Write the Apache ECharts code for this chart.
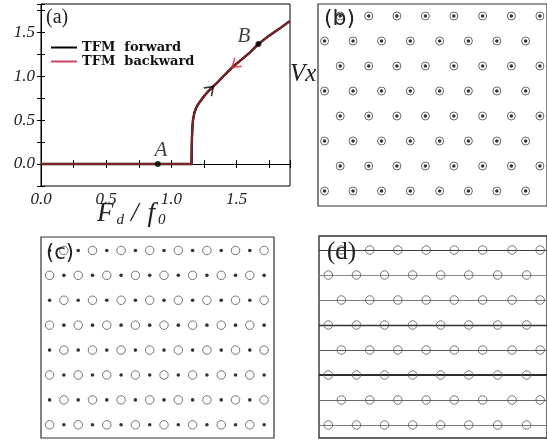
<!DOCTYPE html>
<html><head><meta charset="utf-8">
<script src="https://cdn.jsdelivr.net/npm/echarts@6/dist/echarts.min.js"></script>
<style>html,body{margin:0;padding:0;background:#fff}#c{width:547px;height:441px}</style>
</head><body><div id="c"></div>
<script>
// ---------- Panel (a): Vx versus Fd/f0 ----------
const curveF       = [0, 0.3, 0.6, 0.9, 1.155, 1.156, 1.158, 1.161, 1.166, 1.176, 1.188, 1.200, 1.215, 1.232, 1.255, 1.283, 1.315, 1.348, 1.41, 1.475, 1.54, 1.604, 1.668, 1.75, 1.83, 1.908];
const forwardV     = [0, 0, 0, 0, 0, 0.15, 0.30, 0.41, 0.50, 0.58, 0.63, 0.666, 0.70, 0.734, 0.78, 0.827, 0.875, 0.92, 1.015, 1.11, 1.19, 1.27, 1.366, 1.46, 1.54, 1.625];
const backwardV    = [0, 0, 0, 0, 0, 0.15, 0.30, 0.41, 0.50, 0.58, 0.63, 0.666, 0.70, 0.734, 0.78, 0.827, 0.875, 0.92, 1.015, 1.11, 1.19, 1.27, 1.366, 1.46, 1.54, 1.625];
const pointNames   = ['A', 'B'];
const pointF       = [0.896, 1.668];
const pointV       = [0, 1.366];
const arrowF       = [1.30, 1.49];
const arrowV       = [0.85, 1.13];
const arrowDeg     = [44, 220];
const xTickValues  = [0, 0.5, 1.0, 1.5];
const xTickLabels  = ['0.0', '0.5', '1.0', '1.5'];
const yTickValues  = [0, 0.5, 1.0, 1.5];
const yTickLabels  = ['0.0', '0.5', '1.0', '1.5'];
const seriesNames  = ['TFM forward', 'TFM backward'];

// ---------- Panel (b): locked lattice (circle + dot) ----------
const bRowsA_Y = [7.6, 5.6, 3.6, 1.6];
const bRowsA_X = [0.78, 1.78, 2.77, 3.77, 4.77, 5.78, 6.79, 7.79];
const bRowsB_Y = [6.6, 4.6, 2.6, 0.6];
const bRowsB_X = [0.23, 1.23, 2.23, 3.24, 4.27, 5.28, 6.28, 7.29];

// ---------- Panel (c): decoupled circles and dots ----------
const cRowsA_Y = [7.53, 5.53, 3.53, 1.53];   // dots on even columns
const cRowsB_Y = [6.53, 4.53, 2.53, 0.53];   // circles on even columns
const cEvenX   = [0.6, 2.6, 4.6, 6.6, 8.6, 10.6, 12.6, 14.6];
const cOddX    = [1.6, 3.6, 5.6, 7.6, 9.6, 11.6, 13.6, 15.6];

// ---------- Panel (d): circles with sliding channels ----------
const dRowsA_Y = [7.52, 5.52, 3.52, 1.52];
const dRowsA_X = [0.79, 1.79, 2.78, 3.78, 4.77, 5.77, 6.81, 7.80];
const dRowsB_Y = [6.52, 4.52, 2.52, 0.52];
const dRowsB_X = [0.33, 1.32, 2.31, 3.3, 4.29, 5.28, 6.3, 7.32];
const dLineRowsY = [7.52, 6.52, 5.52, 4.52, 3.52, 2.52, 1.52, 0.52];

// styles (kept separate from data)
const dLineColors = ['#3a3a3a', '#8a8a8a', '#7a7a7a', '#333333', '#5a5a5a', '#2e2e2e', '#6a6a6a', '#7a7a7a'];
const dLineWidths = [1.2, 1.2, 1.2, 1.4, 1.2, 1.8, 1.2, 1.2];

function zip(xs, ys) { return xs.map((x, i) => [x, ys[i]]); }
function grid2(ysArr, xs) { const out = []; ysArr.forEach(y => xs.forEach(x => out.push([x, y]))); return out; }
function lab(values, labels) {
  return v => { const i = values.findIndex(t => Math.abs(t - v) < 1e-6); return i >= 0 ? labels[i] : ''; };
}

const serifIt = { fontFamily: 'Liberation Serif', fontStyle: 'italic', color: '#222' };
const pointLabelStyle = [
  { position: 'top', offset: [3, 5] },
  { position: 'left', offset: [0, -7] }
];

const bLattice = grid2(bRowsA_Y, bRowsA_X).concat(grid2(bRowsB_Y, bRowsB_X));
const cDots = grid2(cRowsA_Y, cEvenX).concat(grid2(cRowsB_Y, cOddX));
const cCircles = grid2(cRowsA_Y, cOddX).concat(grid2(cRowsB_Y, cEvenX));
const dCircles = grid2(dRowsA_Y, dRowsA_X).concat(grid2(dRowsB_Y, dRowsB_X));

const XB = 8.04, YB = 8.08, XC = 16.29, YC = 8.07, XD = 8.04, YD = 8.08;

const option = {
  animation: false,
  backgroundColor: '#fff',
  grid: [
    { left: 41, top: 4, width: 249, height: 182, show: true, borderColor: '#000', borderWidth: 1 },
    { left: 318, top: 4, width: 230, height: 202, show: true, borderColor: '#333', borderWidth: 1.2 },
    { left: 41, top: 237, width: 233, height: 201, show: true, borderColor: '#333', borderWidth: 1.2 },
    { left: 319, top: 236, width: 230, height: 202, show: true, borderColor: '#333', borderWidth: 1.4 }
  ],
  xAxis: [
    { gridIndex: 0, type: 'value', min: 0, max: 1.91, interval: 0.25,
      axisLine: { lineStyle: { color: '#000' } },
      axisTick: { inside: true, length: 4, lineStyle: { color: '#000' } },
      splitLine: { show: false },
      axisLabel: Object.assign({ fontSize: 17, margin: 5, formatter: lab(xTickValues, xTickLabels) }, serifIt) },
    { gridIndex: 0, type: 'value', position: 'top', min: 0, max: 1.91, interval: 0.25,
      axisLine: { show: false }, axisTick: { inside: true, length: 4, lineStyle: { color: '#000' } },
      axisLabel: { show: false }, splitLine: { show: false } },
    { gridIndex: 1, type: 'value', min: 0, max: XB, show: false },
    { gridIndex: 2, type: 'value', min: 0, max: XC, show: false },
    { gridIndex: 3, type: 'value', min: 0, max: XD, show: false }
  ],
  yAxis: [
    { gridIndex: 0, type: 'value', min: -0.25, max: 1.82, interval: 0.25,
      axisLine: { lineStyle: { color: '#000' } },
      axisTick: { inside: true, length: 4, lineStyle: { color: '#000' } },
      splitLine: { show: false },
      axisLabel: Object.assign({ fontSize: 17, margin: 6, formatter: lab(yTickValues, yTickLabels) }, serifIt) },
    { gridIndex: 0, type: 'value', position: 'right', min: -0.25, max: 1.82, interval: 0.25,
      axisLine: { show: false }, axisTick: { inside: true, length: 4, lineStyle: { color: '#000' } },
      axisLabel: { show: false }, splitLine: { show: false } },
    { gridIndex: 1, type: 'value', min: 0, max: YB, show: false },
    { gridIndex: 2, type: 'value', min: 0, max: YC, show: false },
    { gridIndex: 3, type: 'value', min: 0, max: YD, show: false }
  ],
  legend: {
    orient: 'vertical', left: 46, top: 36, itemWidth: 26, itemHeight: 2, itemGap: 1,
    icon: 'rect',
    data: [
      { name: seriesNames[0], itemStyle: { color: '#000' } },
      { name: seriesNames[1], itemStyle: { color: '#c84456' } }
    ],
    formatter: n => n.replace(' ', '  '),
    textStyle: { fontFamily: 'DejaVu Serif', fontWeight: 'bold', fontSize: 13, color: '#111' }
  },
  graphic: [
    { type: 'text', left: 46, top: 8, z: 100, style: { text: '(a)', font: '20px "Liberation Serif"', fill: '#222' } },
    { type: 'text', left: 324, top: 8, z: 100, style: { text: '(b)', font: '22px "DejaVu Sans"', fill: '#222' } },
    { type: 'text', left: 46, top: 243, z: 100, style: { text: '(c)', font: '21px "DejaVu Sans"', fill: '#222' } },
    { type: 'text', left: 327, top: 240, z: 100, style: { text: '(d)', font: '25px "Liberation Serif"', fill: '#222' } },
    { type: 'text', left: 290, top: 62, z: 100, style: { text: 'Vx', font: 'italic 25px "Liberation Serif"', fill: '#222' } },
    { type: 'text', left: 97, top: 200, z: 100, style: {
        text: '{F|F}{s|d}{n|/}{f|f}{s|0}',
        rich: {
          F: { font: 'italic 27px "Liberation Serif"', fill: '#222' },
          f: { font: 'italic 27px "Liberation Serif"', fill: '#222' },
          n: { font: 'italic 27px "Liberation Serif"', fill: '#222', padding: [0, 9, 0, 7] },
          s: { font: 'italic 15px "Liberation Serif"', fill: '#222', padding: [13, 0, 0, 3] }
        } } }
  ],
  series: [
    { name: seriesNames[0], type: 'line', xAxisIndex: 0, yAxisIndex: 0, data: zip(curveF, forwardV),
      symbol: 'none', showSymbol: false, color: '#000', lineStyle: { width: 2.4, color: '#000' }, z: 2 },
    { name: seriesNames[1], type: 'line', xAxisIndex: 0, yAxisIndex: 0, data: zip(curveF, backwardV),
      symbol: 'none', showSymbol: false, color: '#7e2428', lineStyle: { width: 2.1, color: '#7e2428' }, z: 3 },
    { type: 'scatter', xAxisIndex: 0, yAxisIndex: 0, symbolSize: 6, itemStyle: { color: '#000' }, z: 4,
      data: pointNames.map((n, i) => ({ name: n, value: [pointF[i], pointV[i]],
        label: Object.assign({ show: true, formatter: '{b}', fontSize: 21, fontFamily: 'Liberation Serif', fontStyle: 'italic', color: '#111' }, pointLabelStyle[i]) })) },
    { type: 'scatter', xAxisIndex: 0, yAxisIndex: 0, symbol: 'path://M0,0L8,5L0,10', symbolSize: [8, 11], z: 5,
      data: arrowF.map((f, i) => ({ value: [f, arrowV[i]], symbolRotate: arrowDeg[i],
        itemStyle: { color: 'rgba(0,0,0,0)', borderColor: i === 0 ? '#000' : '#e8202a', borderWidth: 1.5 } })) },
    // panel b
    { type: 'scatter', xAxisIndex: 2, yAxisIndex: 2, data: bLattice, symbol: 'circle', symbolSize: 8,
      itemStyle: { color: 'rgba(0,0,0,0)', borderColor: '#444', borderWidth: 1 } },
    { type: 'scatter', xAxisIndex: 2, yAxisIndex: 2, data: bLattice, symbol: 'circle', symbolSize: 3.5,
      itemStyle: { color: '#000' } },
    // panel c
    { type: 'scatter', xAxisIndex: 3, yAxisIndex: 3, data: cCircles, symbol: 'circle', symbolSize: 8.5,
      itemStyle: { color: 'rgba(0,0,0,0)', borderColor: '#555', borderWidth: 1 } },
    { type: 'scatter', xAxisIndex: 3, yAxisIndex: 3, data: cDots, symbol: 'circle', symbolSize: 3.6,
      itemStyle: { color: '#000' } },
    // panel d
    { type: 'lines', coordinateSystem: 'cartesian2d', xAxisIndex: 4, yAxisIndex: 4, z: 2,
      data: dLineRowsY.map((y, i) => ({ coords: [[0, y], [XD, y]], lineStyle: { color: dLineColors[i], width: dLineWidths[i], opacity: 1 } })) },
    { type: 'scatter', xAxisIndex: 4, yAxisIndex: 4, data: dCircles, symbol: 'circle', symbolSize: 8.5, z: 3,
      itemStyle: { color: 'rgba(0,0,0,0)', borderColor: '#555', borderWidth: 1 } }
  ]
};

const chart = echarts.init(document.getElementById('c'), null, { renderer: 'canvas' });
chart.setOption(option);
</script>
</body></html>
